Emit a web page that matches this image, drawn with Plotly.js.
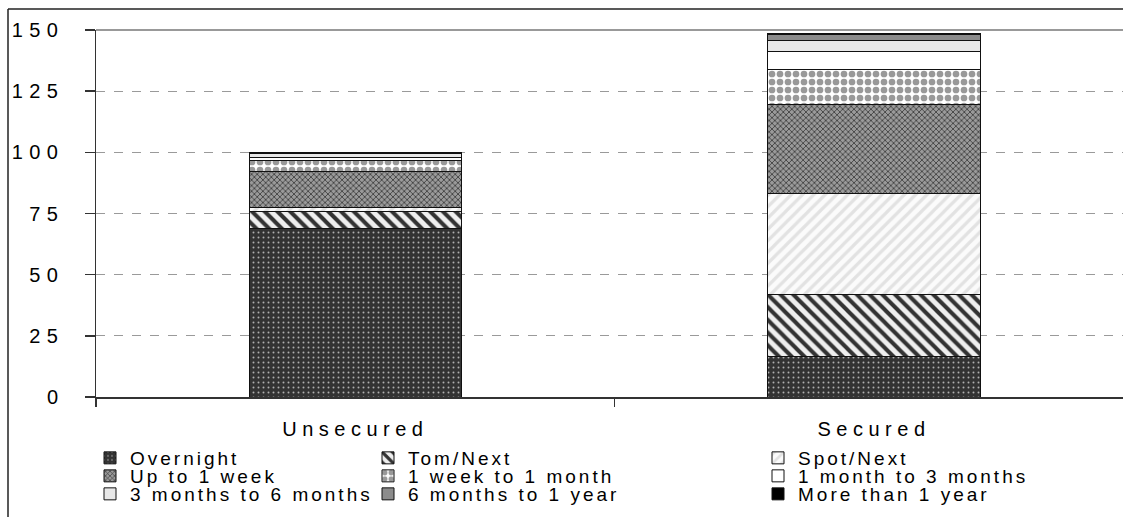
<!DOCTYPE html>
<html>
<head>
<meta charset="utf-8">
<script src="https://cdn.plot.ly/plotly-3.0.1.min.js"></script>
<style>
  html, body { margin: 0; padding: 0; background: #fff; overflow: hidden; width: 1123px; height: 517px; }
  #chart { width: 1123px; height: 517px; }
  #chart .legendtext,
  #chart .infolayer g[class^="legend"] text { letter-spacing: 3px !important; }
  #chart .infolayer g[class^="legend"] g.scrollbox { clip-path: none !important; }
  #chart .infolayer g[class^="legend"] { clip-path: none !important; }
  #chart .xtick text { letter-spacing: 5.5px !important; }
  #chart .ytick text { letter-spacing: 6.5px !important; }
</style>
</head>
<body>
<div id="chart"></div>
<script>
// ---- data ----
const categories = ["Unsecured", "Secured"];
const seriesNames = [
  "Overnight", "Tom/Next", "Spot/Next",
  "Up to 1 week", "1 week to 1 month", "1 month to 3 months",
  "3 months to 6 months", "6 months to 1 year", "More than 1 year"
];
const overnight      = [68.7, 16.5];
const tomNext        = [7.0, 25.3];
const spotNext       = [1.8, 41.4];
const upTo1Week      = [14.6, 36.5];
const week1ToMonth1  = [4.5, 14.3];
const month1To3      = [1.4, 7.1];
const month3To6      = [1.6, 4.8];
const month6ToYear1  = [0.4, 2.3];
const moreThanYear1  = [0.1, 0.3];
const seriesValues = [overnight, tomNext, spotNext, upTo1Week, week1ToMonth1,
                      month1To3, month3To6, month6ToYear1, moreThanYear1];
const yTicks = [0, 25, 50, 75, 100, 125, 150];

// ---- styles ----
const fills = [
  {color: "#333333", pattern: {shape: ".", bgcolor: "#333333", fgcolor: "#b0b0b0", size: 5, solidity: 0.12}},
  {color: "#eeeeee", pattern: {shape: "\\", bgcolor: "#eeeeee", fgcolor: "#333333", size: 9, solidity: 0.45}},
  {color: "#fafafa", pattern: {shape: "/", bgcolor: "#fbfbfb", fgcolor: "#e2e2e2", size: 8, solidity: 0.4}},
  {color: "#777777", pattern: {shape: "x", bgcolor: "#9a9a9a", fgcolor: "#333333", size: 4, solidity: 0.35}},
  {color: "#cccccc", pattern: {shape: ".", bgcolor: "#ffffff", fgcolor: "#999999", size: 8, solidity: 0.55}},
  {color: "#ffffff"},
  {color: "#e8e8e8"},
  {color: "#8c8c8c"},
  {color: "#000000"}
];

// legend placement: 3 columns x 3 rows (pixel positions -> paper coords)
const plotL = 96, plotR = 1123, plotT = 30, plotB = 397;
const colX = [104, 382, 772];
const rowY = [458, 476, 494];
function px2x(p) { return (p - plotL) / (plotR - plotL); }
function py2y(p) { return (plotB - p) / (plotB - plotT); }

const font = {family: "'Liberation Sans', Arial, sans-serif", color: "#000"};

const traces = [];
const layout = {
  width: 1123, height: 517,
  margin: {l: plotL, r: 1123 - plotR, t: plotT, b: 517 - plotB, pad: 0},
  paper_bgcolor: "#fff", plot_bgcolor: "#fff",
  barmode: "stack",
  bargap: 0.59,
  font: Object.assign({size: 19}, font),
  xaxis: {
    type: "category",
    range: [-0.5, 1.48],
    showline: true, linecolor: "#333", linewidth: 1.5,
    ticks: "outside", tickson: "boundaries", ticklen: 8, tickcolor: "#333", tickwidth: 1.5,
    showgrid: false, zeroline: false,
    tickfont: Object.assign({size: 20}, font),
    ticklabelstandoff: 13
  },
  yaxis: {
    range: [0, 150],
    tickvals: yTicks, ticktext: yTicks.map(String),
    showline: true, linecolor: "#333", linewidth: 1.5,
    ticks: "outside", ticklen: 10, tickcolor: "#333", tickwidth: 1.5,
    showgrid: true, gridcolor: "#9a9a9a", griddash: "dash", gridwidth: 1,
    zeroline: false,
    tickfont: Object.assign({size: 20}, font),
    ticklabelstandoff: 16
  },
  shapes: [
    {type: "line", xref: "paper", yref: "paper", x0: 0, x1: 1, y0: 1, y1: 1,
     line: {color: "#999", width: 2}},
    // outer chart frame (left and top edges)
    {type: "line", xref: "paper", yref: "paper", x0: px2x(8), x1: px2x(8), y0: py2y(9), y1: py2y(530),
     line: {color: "#222", width: 1.5}},
    {type: "line", xref: "paper", yref: "paper", x0: px2x(8), x1: px2x(1130), y0: py2y(9), y1: py2y(9),
     line: {color: "#222", width: 1.5}}
  ],
  showlegend: true
};

seriesNames.forEach((name, i) => {
  const col = i % 3, row = Math.floor(i / 3);
  const lid = i === 0 ? "legend" : "legend" + (i + 1);
  const marker = {color: fills[i].color, line: {color: "#111", width: 1}};
  if (fills[i].pattern) marker.pattern = Object.assign({fillmode: "replace"}, fills[i].pattern);
  traces.push({
    type: "bar", name: name, x: categories, y: seriesValues[i],
    marker: marker, legend: lid, hoverinfo: "name+y"
  });
  layout[lid] = {
    x: px2x(colX[col] - 14), xanchor: "left",
    y: py2y(rowY[row]), yanchor: "middle",
    bgcolor: "rgba(0,0,0,0)", borderwidth: 0,
    font: Object.assign({size: 19}, font),
    orientation: "v"
  };
});

function spaceLegend() {
  document.querySelectorAll("#chart text.legendtext").forEach(t => {
    t.style.setProperty("letter-spacing", "3px", "important");
  });
}
Plotly.newPlot("chart", traces, layout, {staticPlot: true, displayModeBar: false}).then(() => {
  spaceLegend();
  setTimeout(spaceLegend, 50);
});
</script>
</body>
</html>
